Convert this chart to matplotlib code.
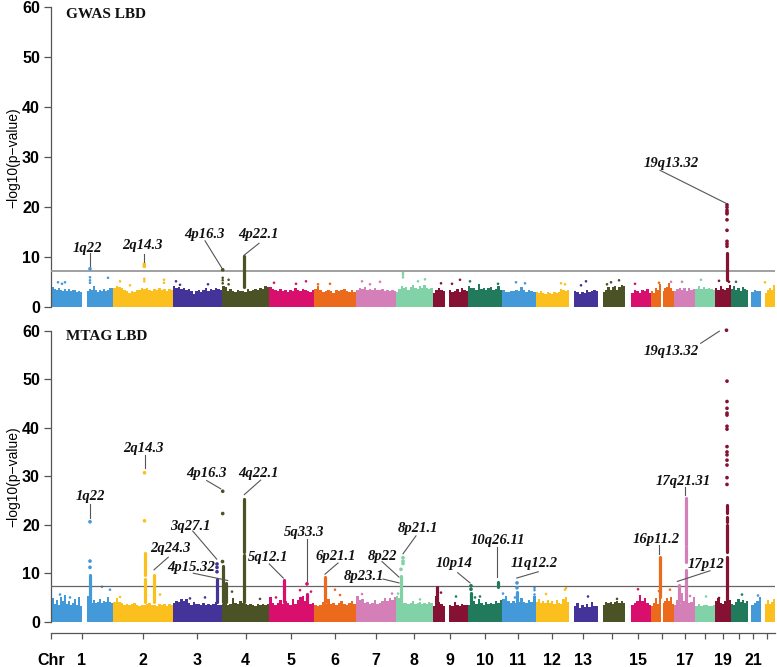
import matplotlib
matplotlib.use("Agg")
import matplotlib.pyplot as plt

# colours per chromosome (1..22)
chr_colors = ["#4499d9", "#fcc01e", "#443399", "#4a5226", "#d90f6e", "#ec6a1c", "#d57fb9", "#82d2a8",
              "#851233", "#217a5b", "#4499d9", "#fcc01e", "#443399", "#4a5226", "#d90f6e", "#ec6a1c",
              "#d57fb9", "#82d2a8", "#851233", "#217a5b", "#4499d9", "#fcc01e"]

# chromosome pieces: chromosome number, start, end (x scale of the plot)
piece_chr = [1, 1, 2, 3, 4, 5, 6, 7, 8, 9, 9, 10, 11, 12, 13, 14, 15, 16, 16, 17, 18, 19, 20, 21, 22]
piece_start = [52, 87, 113, 173, 222, 269, 314, 356, 396, 432.5, 449, 468, 502, 535.5, 574, 603, 631, 651, 662.5, 674, 695, 715, 731, 751, 765]
piece_end = [82, 113, 173, 222, 269, 314, 356, 396, 432.5, 445, 468, 502, 535.5, 569, 598, 625, 651, 661, 674, 695, 715, 731, 748, 761, 775]

# upper edge of the dense band, one list per piece
gwas_band = [
    [4.1, 3.6, 3.4, 3.9, 3.5, 3.2, 3.6, 3.3, 3.6, 3.2, 3.4, 3.5, 3.1, 3.3, 3.0],
    [3.2, 3.6, 3.5, 4.3, 3.4, 3.0, 3.4, 3.2, 3.6, 3.3, 3.5, 3.8, 3.9],
    [3.9, 4.2, 4.1, 3.8, 3.4, 3.2, 2.9, 3.3, 3.1, 3.5, 3.4, 3.8, 3.6, 3.9, 3.5, 3.3, 3.6, 3.4, 3.9, 3.5, 3.6, 3.3, 3.7, 3.4],
    [4.2, 3.8, 4.1, 3.6, 3.9, 3.5, 3.7, 3.3, 2.7, 3.2, 3.5, 3.1, 3.4, 3.8, 3.3, 3.6, 3.5, 3.9, 3.7, 3.5],
    [4.3, 4.0, 3.2, 3.6, 3.2, 3.0, 3.4, 3.2, 3.3, 3.1, 3.6, 3.2, 3.4, 3.7, 3.5, 3.9, 3.7, 4.2, 4.0],
    [4.1, 3.6, 3.4, 3.3, 3.7, 3.2, 3.4, 3.1, 3.5, 3.3, 3.9, 3.5, 3.2, 3.6, 3.4, 3.3, 3.0, 3.4],
    [3.6, 4.2, 3.4, 3.0, 3.3, 3.5, 3.2, 2.9, 3.4, 3.3, 3.5, 3.6, 3.2, 3.1, 3.4, 3.0],
    [3.4, 3.9, 3.6, 4.0, 3.5, 3.7, 3.4, 3.8, 3.5, 3.4, 3.6, 3.3, 3.5, 3.2, 3.4, 3.3],
    [3.1, 3.7, 4.3, 3.9, 4.1, 3.5, 4.0, 4.4, 3.8, 3.7, 4.2, 3.8, 4.5, 3.9, 3.6, 3.9],
    [2.8, 3.5, 3.9, 3.5, 3.2],
    [3.5, 3.0, 3.3, 3.6, 3.1, 3.9, 3.5, 3.3],
    [4.3, 3.8, 3.9, 3.5, 4.6, 3.7, 3.9, 3.4, 3.8, 4.0, 3.5, 3.7, 4.2, 3.5],
    [3.4, 3.1, 3.0, 3.3, 3.2, 3.5, 3.3, 4.1, 3.5, 3.1, 3.4, 3.2, 3.0],
    [3.1, 2.9, 3.2, 2.9, 2.7, 3.0, 2.8, 2.6, 3.0, 2.8, 3.1, 3.6, 3.4, 3.2, 3.5],
    [3.2, 3.0, 2.7, 3.1, 2.9, 3.5, 3.0, 3.2, 3.5, 3.3],
    [3.1, 3.5, 4.0, 3.4, 4.0, 4.3, 3.5, 4.1, 4.4, 4.2],
    [2.8, 3.5, 3.2, 2.9, 3.4, 3.2, 3.6, 2.9],
    [3.2, 2.9, 3.8, 3.4, 4.6],
    [3.2, 3.9, 4.1, 4.8, 3.8, 3.2],
    [3.3, 3.6, 3.9, 3.4, 3.8, 3.2, 3.8, 3.5, 3.6],
    [3.7, 4.2, 3.6, 4.0, 3.7, 3.8, 3.6, 3.5],
    [3.9, 3.5, 4.2, 3.7, 3.4, 3.9, 4.5],
    [3.6, 4.2, 3.4, 3.8, 3.2, 4.0, 3.7, 3.5],
    [3.1, 3.5, 3.3, 3.2],
    [2.9, 3.5, 3.9, 3.4, 4.4],
]
mtag_band = [
    [4.8, 3.7, 4.4, 3.5, 5.0, 4.2, 5.5, 3.6, 4.2, 3.5, 3.9, 4.7, 3.4, 5.1, 3.2],
    [5.3, 4.2, 3.9, 4.4, 3.8, 4.0, 4.6, 3.9, 4.3, 4.0, 5.0, 4.1, 3.9],
    [4.0, 4.8, 4.1, 3.9, 3.5, 3.7, 3.4, 3.6, 3.8, 3.4, 3.3, 3.5, 3.4, 3.6, 3.8, 3.4, 3.5, 3.2, 3.7, 3.5, 3.6, 3.3, 3.7, 3.4],
    [3.9, 4.3, 4.0, 4.6, 4.2, 4.7, 3.8, 3.4, 4.0, 3.6, 3.7, 3.4, 3.8, 3.5, 3.7, 3.4, 3.6, 4.0, 3.5, 3.4],
    [3.6, 3.9, 3.4, 3.6, 4.8, 3.9, 3.7, 4.2, 3.9, 3.6, 3.4, 3.7, 3.5, 3.3, 3.6, 3.5, 3.7, 3.4, 3.6],
    [5.0, 3.9, 3.5, 3.8, 4.5, 3.6, 4.2, 3.8, 3.5, 4.7, 3.7, 4.5, 5.0, 5.3, 4.2, 4.8, 3.7, 3.9],
    [3.4, 3.2, 3.5, 4.0, 3.6, 4.6, 3.7, 3.9, 3.4, 3.8, 4.2, 3.7, 3.5, 3.9, 4.3, 3.6],
    [5.3, 4.4, 4.6, 3.8, 4.1, 3.6, 3.9, 4.4, 3.7, 3.9, 4.2, 4.8, 4.3, 4.9, 4.4, 5.0],
    [5.4, 4.9, 4.1, 3.8, 3.9, 3.6, 3.9, 4.2, 3.7, 3.9, 4.1, 3.6, 3.9, 3.7, 4.0, 3.8],
    [3.2, 5.2, 4.0, 3.6, 3.3],
    [3.4, 3.3, 4.1, 3.5, 3.3, 3.6, 3.4, 3.5],
    [3.5, 3.9, 4.3, 3.6, 4.6, 3.8, 3.5, 4.1, 3.6, 3.9, 3.7, 4.2, 3.8, 4.4],
    [4.7, 5.2, 4.2, 3.9, 4.3, 3.8, 4.1, 4.9, 4.0, 3.8, 4.4, 4.0, 5.3],
    [4.0, 4.7, 3.9, 4.2, 3.8, 4.5, 3.9, 4.3, 3.7, 4.5, 3.9, 3.6, 4.6, 5.0, 4.0],
    [3.2, 3.8, 2.9, 3.4, 3.1, 3.6, 3.0, 4.1, 3.3, 3.2],
    [3.4, 4.0, 3.8, 4.1, 3.7, 4.1, 4.2, 3.9, 4.2, 3.8],
    [3.4, 3.9, 4.2, 5.6, 4.2, 4.8, 3.9, 3.5],
    [3.3, 3.9, 4.8, 3.7, 5.0],
    [3.8, 4.2, 4.9, 4.2, 5.0, 3.6],
    [3.5, 4.5, 3.7, 6.0, 4.2, 4.5, 3.9, 4.1, 5.0],
    [3.3, 3.6, 3.2, 3.5, 3.4, 3.3, 3.2, 3.4],
    [4.2, 4.8, 3.9, 3.6, 4.3, 4.9, 4.5],
    [3.7, 3.5, 4.1, 4.7, 4.0, 4.4, 3.9, 4.3],
    [3.4, 3.8, 4.3, 5.0],
    [3.6, 4.4, 3.7, 4.1, 4.6],
]

# loose points above the band: chromosome, position, -log10(p)
gwas_pt_chr = [1, 1, 1, 1, 1, 1, 1, 2, 2, 2, 2, 2, 2, 3, 3, 3, 4, 4, 4, 4, 4, 5, 5, 5, 6, 6, 7, 7, 7,
               8, 8, 8, 8, 8, 9, 9, 9, 10, 10, 11, 11, 12, 12, 13, 13, 14, 14, 14, 15, 16, 17, 17, 18, 19, 19, 20, 22]
gwas_pt_x = [58, 62, 65, 90, 90, 90, 108, 120, 144.3, 144.3, 164, 164, 130, 176, 208, 180, 222.7, 222.7, 222.7, 228.6, 228.6, 274, 306, 296,
             318, 330, 362, 380, 370, 403, 403, 403, 425, 418, 441, 460, 452, 470, 498, 525, 516, 561, 565, 586, 581, 607, 619, 611,
             635, 659, 671, 682, 701, 719, 729, 736, 765]
gwas_pt_y = [5.0, 4.7, 5.0, 6.0, 5.4, 4.9, 5.9, 5.2, 5.7, 5.2, 5.5, 4.9, 4.4, 5.2, 4.6, 4.5, 5.9, 5.4, 4.8, 5.5, 4.6, 4.9, 5.2, 4.7,
             4.6, 4.7, 5.2, 5.1, 4.6, 6.9, 6.5, 6.0, 5.6, 5.2, 4.8, 5.5, 4.7, 5.2, 4.7, 4.8, 5.0, 4.8, 4.6, 5.2, 4.4, 4.6, 5.4, 5.0,
             4.7, 4.9, 5.1, 5.1, 5.5, 5.3, 5.1, 5.1, 5.0]
mtag_pt_chr = [1, 1, 1, 1, 2, 2, 3, 3, 4, 4, 5, 5, 5, 6, 6, 7, 7, 8, 8, 9, 10, 10, 10, 11, 11, 11, 11, 11,
               12, 12, 12, 13, 14, 15, 16, 16, 17, 18, 19, 20, 21]
mtag_pt_x = [60, 70, 102, 110, 120, 160, 190, 205, 232, 260, 276, 300, 311, 335, 340, 362, 392, 398, 420, 441, 456, 475, 480, 503, 515, 534.5, 534.5, 534.5,
             546, 565, 566, 588, 617, 638, 659, 670, 690, 706, 719, 742, 758]
mtag_pt_y = [5.6, 5.0, 7.2, 6.6, 5.1, 5.6, 4.8, 5.0, 6.2, 4.7, 5.0, 6.5, 6.2, 6.6, 5.5, 5.7, 5.8, 5.8, 4.6, 6.0, 5.2, 5.0, 5.2, 5.8, 5.0, 7.0, 6.5, 5.6,
             5.7, 6.6, 6.9, 5.2, 4.7, 6.7, 6.3, 6.6, 5.3, 5.2, 4.9, 5.6, 5.4]

# peak columns: solid stretches, chromosome, position, low, high
gwas_col_chr = [4, 19]
gwas_col_x = [244.4, 727]
gwas_col_lo = [4.0, 5.5]
gwas_col_hi = [10.2, 10.8]

gwas_peak_chr = [1, 2, 2] + [4] + [19] * 10
gwas_peak_x = [90, 144.3, 144.3, 222.7] + [727] * 10
gwas_peak_y = [7.7, 8.6, 8.2, 7.5, 20.5, 20.0, 19.4, 19.0, 18.7, 17.5, 15.4, 13.2, 12.7, 12.2]

mtag_col_chr = [1, 2, 2, 2, 3, 4, 4, 4, 4, 5, 5, 6, 8, 9, 10, 10, 11, 16, 17, 17, 17, 17, 19, 19, 19, 19]
mtag_col_x = [90, 144.5, 144.5, 154, 217, 222.5, 226, 244, 244, 284, 307, 324.5, 401, 437, 471, 497.5, 517, 659.5, 679, 685.5, 685.5, 685.5, 726.7, 726.7, 726.7, 726.7]
mtag_col_lo = [4.0, 4.0, 9.6, 4.0, 4.0, 4.0, 4.0, 4.0, 14.4, 4.0, 4.0, 4.0, 4.0, 3.0, 4.0, 7.2, 4.0, 5.0, 4.0, 4.0, 12.4, 15.8, 4.0, 14.4, 20.6, 22.4]
mtag_col_hi = [9.6, 8.8, 14.2, 9.7, 8.8, 11.4, 8.0, 13.8, 25.2, 8.5, 5.8, 9.2, 9.5, 7.2, 6.0, 8.2, 6.2, 13.3, 7.6, 10.7, 15.5, 25.6, 13.4, 19.9, 21.6, 24.0]

mtag_peak_chr = [1, 1, 1, 2, 2, 3, 3, 3, 4, 4, 4, 5, 8, 8, 8, 8, 10, 10, 11, 11] + [19] * 15
mtag_peak_x = [90, 90, 90, 144.5, 144.5, 217, 217, 217, 222.7, 222.7, 222.5, 307, 403, 403, 403, 401, 471, 471, 517, 517] + [726.5] + [727] * 14
mtag_peak_y = [20.6, 12.5, 11.2, 30.7, 20.8, 11.9, 11.2, 10.3, 26.9, 22.3, 12.4, 7.8, 13.2, 12.5, 12.0, 10.8, 7.4, 6.7, 8.0, 7.0,
               60.1, 49.6, 45.4, 44.0, 43.0, 42.6, 40.3, 39.7, 36.1, 35.0, 34.4, 33.3, 32.3, 29.7, 28.3]

threshold = 7.3

# locus labels: text, label x, label y, connector x0, y0, x1, y1
gwas_labels = ["1q22", "2q14.3", "4p16.3", "4p22.1", "19q13.32"]
gwas_label_x = [87, 142, 204, 258, 671]
gwas_label_y = [11.8, 12.3, 14.6, 14.6, 28.8]
gwas_line_x0 = [89.7, 144, 205, 259, 660]
gwas_line_y0 = [10.8, 10.6, 13.3, 12.8, 27.4]
gwas_line_x1 = [89.7, 144, 221.7, 244, 726]
gwas_line_y1 = [8.3, 9.0, 7.9, 10.4, 20.8]

mtag_labels = ["1q22", "2q14.3", "4p16.3", "4q22.1", "3q27.1", "2q24.3", "4p15.32", "5q12.1", "5q33.3", "6p21.1",
               "8p22", "8p23.1", "8p21.1", "10p14", "10q26.11", "11q12.2", "16p11.2", "17p12", "17q21.31", "19q13.32"]
mtag_label_x = [90, 143.7, 206.7, 258.3, 190, 170, 190.7, 268.3, 304.3, 335.7, 382, 364, 418, 454, 498, 534, 656.7, 706, 683, 671.7]
mtag_label_y = [25.9, 35.8, 30.5, 30.5, 19.6, 15.0, 11.1, 13.3, 18.3, 13.5, 13.5, 9.3, 19.3, 11.9, 16.8, 12.1, 17.0, 11.8, 29.0, 55.7]
mtag_line_x0 = [90, 144.5, 206.7, 260.7, 192.7, 168.3, 193.3, 269.3, 307, 338, 382, 383, 416, 457.7, 497, 538.3, 658.7, 710, 684.7, 700.7]
mtag_line_y0 = [24.3, 34.4, 29.1, 29.2, 18.7, 13.3, 10.0, 11.9, 17.1, 12.1, 12.4, 8.8, 17.7, 10.1, 15.5, 10.3, 15.8, 10.5, 27.8, 57.4]
mtag_line_x1 = [90, 144.5, 220.7, 244.3, 216.7, 154, 227.7, 283.3, 307, 325, 399, 399, 403, 470, 497, 516.7, 658.7, 677.3, 684.7, 719.3]
mtag_line_y1 = [21.4, 31.7, 27.4, 26.2, 12.9, 10.7, 8.5, 9.0, 8.4, 9.8, 9.2, 8.0, 14.0, 8.0, 9.3, 9.0, 14.0, 8.3, 26.2, 59.9]

chr_ticks = [51, 82, 143, 197, 245.5, 291, 335, 376, 414, 450, 484.7, 518, 552, 583, 612, 638, 662, 685, 705, 723, 739, 753, 767]
chr_tick_labels = ["Chr", "1", "2", "3", "4", "5", "6", "7", "8", "9", "10", "11", "12", "13", "", "15", "", "17", "", "19", "", "21", ""]

W, H = 777, 667
plt.rcParams["font.family"] = ["Liberation Sans", "DejaVu Sans"]
fig = plt.figure(figsize=(W / 100, H / 100), dpi=100)
ax_top = fig.add_axes([51 / W, 1 - 307.3 / H, 724 / W, 300 / H])
ax_bot = fig.add_axes([51 / W, 1 - 621.7 / H, 724 / W, 291 / H])


def draw_panel(ax, band, pt_chr, pt_x, pt_y, col_chr, col_x, col_lo, col_hi, peak_chr, peak_x, peak_y, line_color, line_width):
    # dense band
    for chrom, start, end, heights in zip(piece_chr, piece_start, piece_end, band):
        step = (end - start) / len(heights)
        lefts = [start + i * step for i in range(len(heights))]
        ax.bar(lefts, heights, width=step * 1.02, align="edge", color=chr_colors[chrom - 1], linewidth=0, zorder=2)
    pt_cols = [chr_colors[c - 1] for c in pt_chr]
    ax.scatter(pt_x, pt_y, s=3.5, c=pt_cols, linewidths=0, zorder=3)
    ax.axhline(threshold, color=line_color, lw=line_width, zorder=3.5)
    for c, x, lo, hi in zip(col_chr, col_x, col_lo, col_hi):
        ax.plot([x, x], [lo, hi], color=chr_colors[c - 1], lw=2.3, solid_capstyle="round", zorder=4)
    peak_cols = [chr_colors[c - 1] for c in peak_chr]
    ax.scatter(peak_x, peak_y, s=7, c=peak_cols, linewidths=0, zorder=4, clip_on=False)

    ax.set_xlim(51, 775)
    ax.set_ylim(0, 60)
    ax.set_yticks([0, 10, 20, 30, 40, 50, 60])
    ax.tick_params(axis="y", length=5, width=0.9, color="#555555", pad=3, labelsize=11.5)
    for lab in ax.get_yticklabels():
        lab.set_fontweight("bold")
    ax.spines["top"].set_visible(False)
    ax.spines["right"].set_visible(False)
    ax.spines["left"].set_color("#555555")
    ax.spines["left"].set_linewidth(0.9)
    ax.set_ylabel("\u2212log10(p\u2212value)", fontsize=10, labelpad=1)


def draw_labels(ax, labels, lx, ly, x0, y0, x1, y1):
    for t, x, y in zip(labels, lx, ly):
        ax.text(x, y, t, ha="center", va="center", family="Liberation Serif", fontweight="bold",
                fontstyle="italic", fontsize=10.5, color="#111111", zorder=6)
    for a, b, c, d in zip(x0, y0, x1, y1):
        ax.plot([a, c], [b, d], color="#555555", lw=0.8, zorder=6, clip_on=False)


draw_panel(ax_top, gwas_band, gwas_pt_chr, gwas_pt_x, gwas_pt_y, gwas_col_chr, gwas_col_x, gwas_col_lo, gwas_col_hi,
           gwas_peak_chr, gwas_peak_x, gwas_peak_y, "#999999", 1.3)
draw_panel(ax_bot, mtag_band, mtag_pt_chr, mtag_pt_x, mtag_pt_y, mtag_col_chr, mtag_col_x, mtag_col_lo, mtag_col_hi,
           mtag_peak_chr, mtag_peak_x, mtag_peak_y, "#666666", 0.9)

draw_labels(ax_top, gwas_labels, gwas_label_x, gwas_label_y, gwas_line_x0, gwas_line_y0, gwas_line_x1, gwas_line_y1)
draw_labels(ax_bot, mtag_labels, mtag_label_x, mtag_label_y, mtag_line_x0, mtag_line_y0, mtag_line_x1, mtag_line_y1)

ax_top.text(66, 58.6, "GWAS LBD", family="Liberation Serif", fontweight="bold", fontsize=11, va="center", color="#111111")
ax_bot.text(66, 58.9, "MTAG LBD", family="Liberation Serif", fontweight="bold", fontsize=11, va="center", color="#111111")

# chromosome axis
ax_top.spines["bottom"].set_visible(False)
ax_top.set_xticks([])
ax_bot.spines["bottom"].set_position(("outward", 8))
ax_bot.spines["bottom"].set_color("#555555")
ax_bot.spines["bottom"].set_linewidth(0.9)
ax_bot.set_xticks(chr_ticks)
ax_bot.set_xticklabels(chr_tick_labels, fontweight="bold", fontsize=11.5)
ax_bot.tick_params(axis="x", length=4.5, width=0.9, color="#555555", pad=10)

fig.savefig("out.png", dpi=100)
